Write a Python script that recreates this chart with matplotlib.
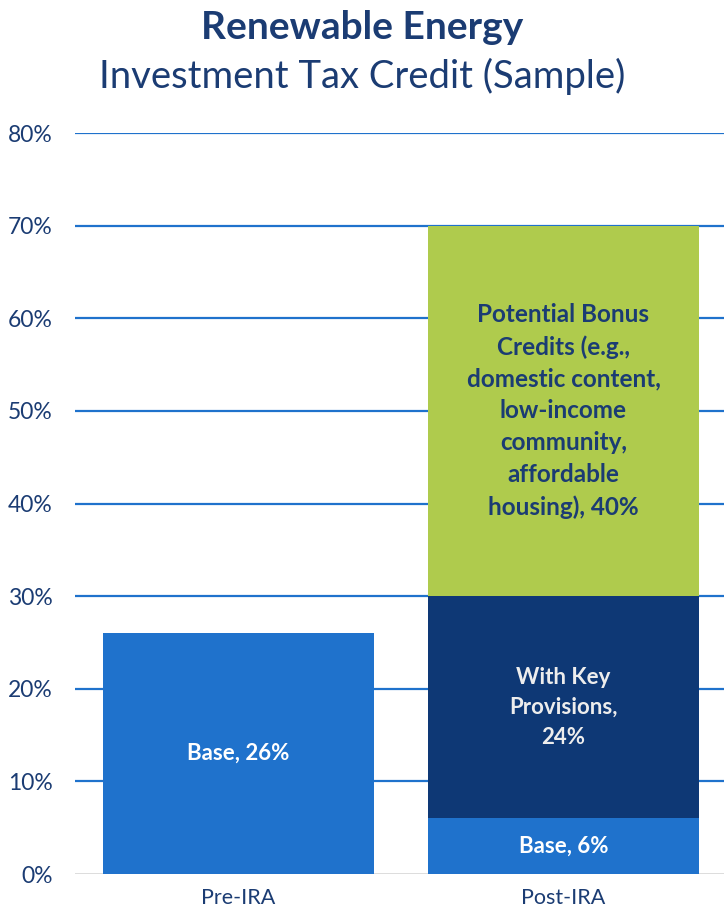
import matplotlib
matplotlib.use("Agg")
from matplotlib import pyplot as plt
import numpy as np

plt.rcParams['font.family'] = ['Lato', 'DejaVu Sans']

categories = ['Pre-IRA', 'Post-IRA']
base = [26, 6]
key_provisions = [0, 24]
bonus = [0, 40]

base_labels = ['Base, 26%', 'Base, 6%']
key_label = 'With Key\nProvisions,\n24%'
bonus_label = ('Potential Bonus\nCredits (e.g.,\ndomestic content,\nlow-income\n'
               'community,\naffordable\nhousing), 40%')

navy_text = '#1B3C73'
c_base = '#1F72CC'
c_key = '#0E3875'
c_bonus = '#AFCB4D'

fig = plt.figure(figsize=(7.24, 9.15), dpi=100)
ax = fig.add_axes([0.1036, 0.0448, 0.8964, 0.8098])

x = np.arange(len(categories))
w = 0.834
base = np.array(base)
key_provisions = np.array(key_provisions)
bonus = np.array(bonus)

ax.bar(x, base, w, color=c_base, zorder=3)
ax.bar(x[1], key_provisions[1], w, bottom=base[1], color=c_key, zorder=3)
ax.bar(x[1], bonus[1], w, bottom=base[1] + key_provisions[1], color=c_bonus, zorder=3)

# labels inside segments
for i in range(len(categories)):
    ax.text(x[i], base[i] / 2, base_labels[i], ha='center', va='center',
            color='white', fontsize=16, fontweight='bold', zorder=4)
ax.text(x[1], base[1] + key_provisions[1] / 2, key_label, ha='center', va='center',
        color='#EDEDED', fontsize=16, fontweight='bold', linespacing=1.52, zorder=4)
ax.text(x[1], base[1] + key_provisions[1] + bonus[1] / 2, bonus_label, ha='center',
        va='center', color=navy_text, fontsize=17.5, fontweight='bold',
        linespacing=1.47, zorder=4)

ax.set_xlim(-0.503, 1.494)
ax.set_ylim(0, 80)
yt = np.arange(0, 81, 10)
ax.set_yticks(yt)
ax.set_yticklabels([f'{v}%' for v in yt], color=navy_text, fontsize=16.5)
ax.set_xticks(x)
ax.set_xticklabels(categories, color=navy_text, fontsize=15.5)
ax.tick_params(axis='both', length=0)
ax.tick_params(axis='y', pad=16)
ax.tick_params(axis='x', pad=10)

for v in yt[1:]:
    ax.axhline(v, color='#1F72CC', lw=1.6, zorder=1)
ax.axhline(0, color='#D9D9D9', lw=2, zorder=2)

for s in ax.spines.values():
    s.set_visible(False)

fig.text(0.5, 0.970, 'Renewable Energy', ha='center', va='center',
         color=navy_text, fontsize=28, fontweight='bold')
fig.text(0.5, 0.917, 'Investment Tax Credit (Sample)', ha='center', va='center',
         color=navy_text, fontsize=27.5)

fig.savefig('out.png', dpi=100)
